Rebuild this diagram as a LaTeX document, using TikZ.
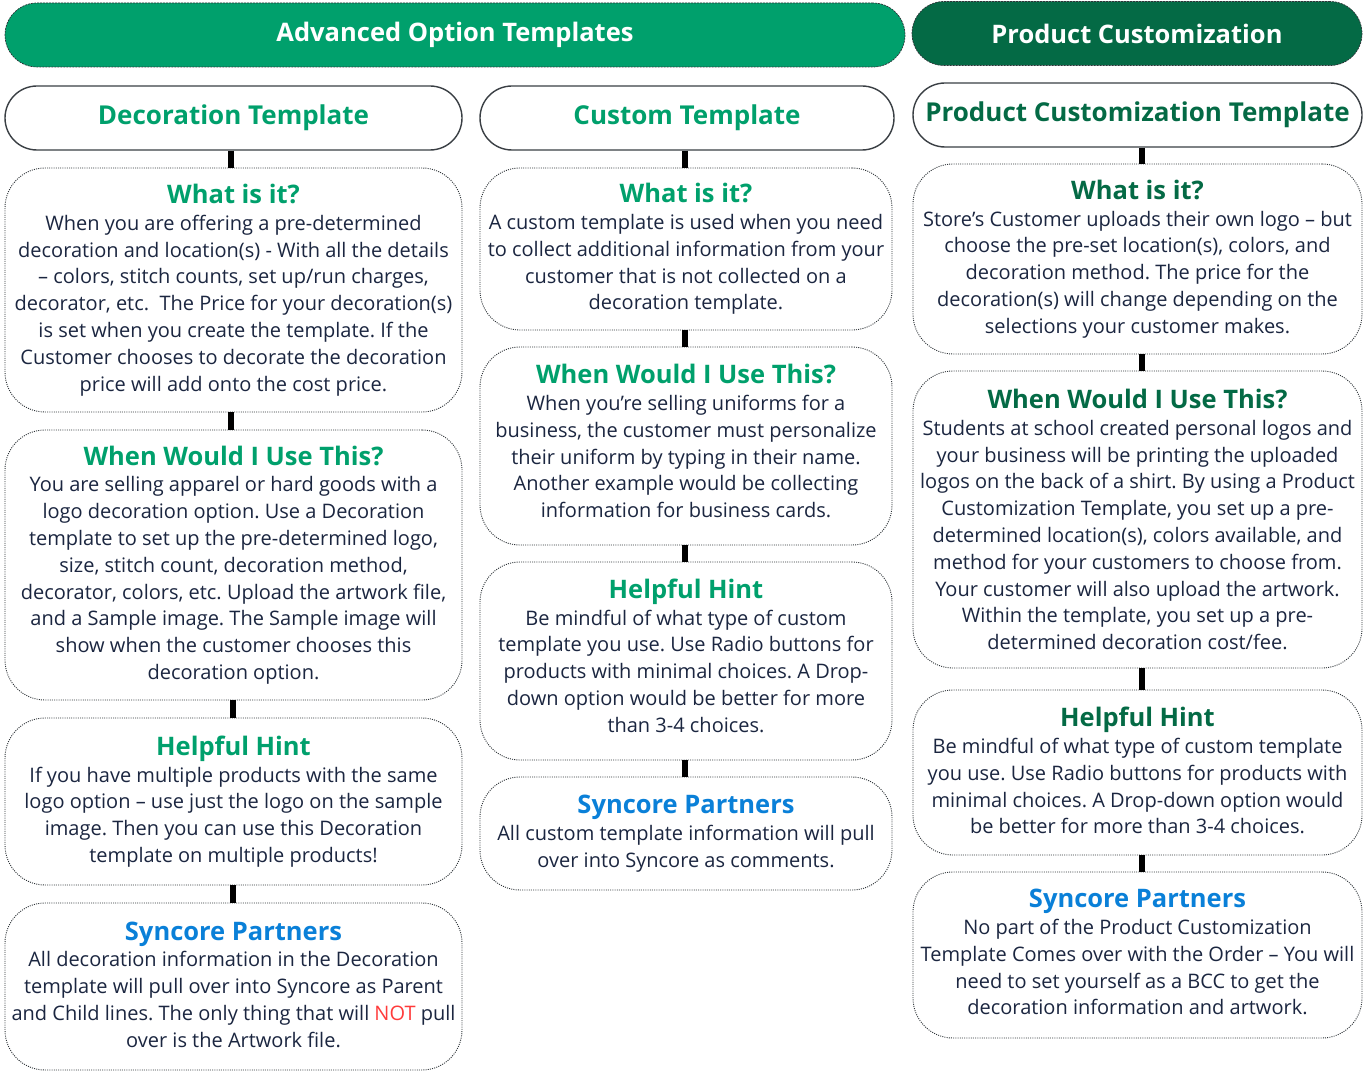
\documentclass[tikz,border=0pt]{standalone}
\usepackage{fontspec}
\setmainfont{Open Sans}
\usetikzlibrary{positioning}

\newcommand{\bodytext}{\fontsize{20}{26.8}\selectfont\frenchspacing}
\newcommand{\headtext}{\fontsize{26}{30}\selectfont\bfseries}
\newcommand{\bannertext}{\fontsize{25.5}{28}\selectfont\bfseries}
\newcommand{\boxhead}[2]{{\color{#1}\fontsize{25.5}{26.8}\selectfont\bfseries #2}}
\newcommand{\lift}[1]{\rule[-#1]{0pt}{0pt}}

\begin{document}
\begin{tikzpicture}[
    x=1pt, y=-1pt,
    every node/.style={font=\bodytext},
]

% ---------------------------------------------------------------- colours
\definecolor{c1}{HTML}{00A06C}   % advanced option templates
\definecolor{c2}{HTML}{046A45}   % product customization
\definecolor{c3}{HTML}{0A80D8}   % syncore partners
\definecolor{bodycolor}{HTML}{1B2640}
\definecolor{edgecolor}{HTML}{2E3338}
\definecolor{pillcolor}{HTML}{3A3F44}
\definecolor{notred}{HTML}{FF3B3B}

\tikzset{
    banner/.style={rectangle, rounded corners=32pt, minimum height=64pt,
                   draw=edgecolor, dash pattern=on 2pt off 1pt, line width=0.7pt,
                   text=white, font=\bannertext, inner sep=0pt},
    pill/.style={rectangle, rounded corners=32pt, minimum height=64pt,
                 draw=pillcolor, line width=1.4pt, font=\headtext, inner sep=0pt},
    card/.style={rectangle, rounded corners=40pt, draw=edgecolor,
                 line width=0.9pt, dash pattern=on 1pt off 1.2pt,
                 align=center, text=bodycolor, inner sep=0pt},
    link/.style={line width=6pt, black},
}

% ================================================================
% GEOMETRY (pixels, y downwards)
%   decoration column     x = 5 .. 462
%   custom column         x = 480 .. 892
%   product column        x = 913 .. 1362
% ================================================================

\useasboundingbox (0,0) rectangle (1368,1075);
\fill[white] (0,0) rectangle (1368,1075);

% ---------------------------------------------------------------- banners
\node[banner, fill=c1, minimum width=900pt] (advanced) at (455, 35)
    {Advanced Option Templates};
\node[banner, fill=c2, minimum width=450pt] (product) at (1137, 33.5)
    {Product Customization};

% ---------------------------------------------------------------- headers
\node[pill, text=c1, minimum width=457pt] (dhead) at (233.5, 118) {Decoration Template};
\node[pill, text=c1, minimum width=414pt] (chead) at (687, 118) {Custom Template};
\node[pill, text=c2, minimum width=449pt] (phead) at (1137.5, 115)
    {Product Customization Template};

% ---------------------------------------------------------------- decoration template
\node[card, minimum width=457pt, minimum height=244pt] (dwhat) at (233.5, 290) {%
    \boxhead{c1}{What is it?}\\
    When you are offering a pre-determined\\
    decoration and location(s) - With all the details\\
    -- colors, stitch counts, set up/run charges,\\
    decorator, etc.\ \ The Price for your decoration(s)\\
    is set when you create the template. If the\\
    Customer chooses to decorate the decoration\\
    price will add onto the cost price.};

\node[card, minimum width=457pt, minimum height=270pt] (dwhen) at (233.5, 565) {%
    \boxhead{c1}{When Would I Use This?}\\
    You are selling apparel or hard goods with a\\
    logo decoration option. Use a Decoration\\
    template to set up the pre-determined logo,\\
    size, stitch count, decoration method,\\
    decorator, colors, etc. Upload the artwork file,\\
    and a Sample image. The Sample image will\\
    show when the customer chooses this\\
    decoration option.};

\node[card, minimum width=457pt, minimum height=167pt] (dhint) at (233.5, 801.5) {%
    \boxhead{c1}{Helpful Hint}\\
    If you have multiple products with the same\\
    logo option -- use just the logo on the sample\\
    image. Then you can use this Decoration\\
    template on multiple products!};

\node[card, minimum width=457pt, minimum height=167pt] (dsync) at (233.5, 986.5) {%
    \boxhead{c3}{Syncore Partners}\\
    All decoration information in the Decoration\\
    template will pull over into Syncore as Parent\\
    and Child lines. The only thing that will {\color{notred}NOT} pull\\
    over is the Artwork file.\lift{4pt}};

% ---------------------------------------------------------------- custom template
\node[card, minimum width=412pt, minimum height=162pt] (cwhat) at (686, 249) {%
    \boxhead{c1}{What is it?}\\
    A custom template is used when you need\\
    to collect additional information from your\\
    customer that is not collected on a\\
    decoration template.};

\node[card, minimum width=412pt, minimum height=198pt] (cwhen) at (686, 446) {%
    \boxhead{c1}{When Would I Use This?}\\
    When you’re selling uniforms for a\\
    business, the customer must personalize\\
    their uniform by typing in their name.\\
    Another example would be collecting\\
    information for business cards.\lift{10pt}};

\node[card, minimum width=412pt, minimum height=198pt] (chint) at (686, 661) {%
    \boxhead{c1}{Helpful Hint}\\
    Be mindful of what type of custom\\
    template you use. Use Radio buttons for\\
    products with minimal choices. A Drop-\\
    down option would be better for more\\
    than 3-4 choices.\lift{11pt}};

\node[card, minimum width=412pt, minimum height=113pt] (csync) at (686, 833.5) {%
    \boxhead{c3}{Syncore Partners}\\
    All custom template information will pull\\
    over into Syncore as comments.};

% ---------------------------------------------------------------- product customization template
\node[card, minimum width=449pt, minimum height=190pt] (pwhat) at (1137.5, 259) {%
    \boxhead{c2}{What is it?}\\
    Store’s Customer uploads their own logo -- but\\
    choose the pre-set location(s), colors, and\\
    decoration method. The price for the\\
    decoration(s) will change depending on the\\
    selections your customer makes.};

\node[card, minimum width=449pt, minimum height=297pt] (pwhen) at (1137.5, 519.5) {%
    \boxhead{c2}{When Would I Use This?}\\
    Students at school created personal logos and\\
    your business will be printing the uploaded\\
    logos on the back of a shirt. By using a Product\\
    Customization Template, you set up a pre-\\
    determined location(s), colors available, and\\
    method for your customers to choose from.\\
    Your customer will also upload the artwork.\\
    Within the template, you set up a pre-\\
    determined decoration cost/fee.};

\node[card, minimum width=449pt, minimum height=165pt] (phint) at (1137.5, 772.5) {%
    \boxhead{c2}{Helpful Hint}\\
    Be mindful of what type of custom template\\
    you use. Use Radio buttons for products with\\
    minimal choices. A Drop-down option would\\
    be better for more than 3-4 choices.\lift{4pt}};

\node[card, minimum width=449pt, minimum height=166pt] (psync) at (1137.5, 955) {%
    \boxhead{c3}{Syncore Partners}\\
    No part of the Product Customization\\
    Template Comes over with the Order -- You will\\
    need to set yourself as a BCC to get the\\
    decoration information and artwork.\lift{6pt}};

% ---------------------------------------------------------------- links
% from / to / sideways offset of the bar
\foreach \a/\b/\dx in {dhead/dwhat/-3, dwhat/dwhen/-3, dwhen/dhint/-1, dhint/dsync/-1,
                       chead/cwhat/-1, cwhat/cwhen/-1, cwhen/chint/-1, chint/csync/-1,
                       phead/pwhat/4, pwhat/pwhen/4, pwhen/phint/4, phint/psync/4} {
    \draw[link] ([xshift=\dx pt]\b.north |- \a.south) -- ([xshift=\dx pt]\b.north);
}

\end{tikzpicture}
\end{document}
